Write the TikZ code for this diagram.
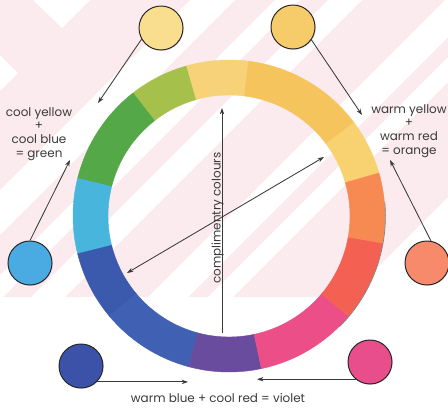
\documentclass[tikz,border=0pt]{standalone}
\usepackage{fontspec}
\setmainfont{Poppins}
\usetikzlibrary{arrows.meta,shadows}
\definecolor{bgpink}{RGB}{251,235,239}
\definecolor{inkgrey}{RGB}{58,58,58}
% wheel colours
\definecolor{whYO}{RGB}{248,210,112}
\definecolor{whYD}{RGB}{246,196,92}
\definecolor{whYL}{RGB}{247,210,120}
\definecolor{whYG}{RGB}{165,193,75}
\definecolor{whGR}{RGB}{85,168,72}
\definecolor{whCY}{RGB}{72,182,220}
\definecolor{whBA}{RGB}{59,89,173}
\definecolor{whBB}{RGB}{64,96,180}
\definecolor{whVI}{RGB}{106,76,158}
\definecolor{whPK}{RGB}{236,78,136}
\definecolor{whRD}{RGB}{244,97,82}
\definecolor{whOR}{RGB}{247,138,82}
% swatch colours
\definecolor{swcy}{RGB}{248,222,142}
\definecolor{swwy}{RGB}{246,204,106}
\definecolor{swcb}{RGB}{74,170,226}
\definecolor{swwr}{RGB}{246,138,106}
\definecolor{swwb}{RGB}{60,82,168}
\definecolor{swcr}{RGB}{232,78,140}

\begin{document}
\begin{tikzpicture}[x=0.025cm,y=-0.025cm,
  >={Stealth[length=1.6mm,width=1.1mm]},
  swatch/.style={circle,draw=black!85,line width=0.7pt,minimum size=1.1cm,inner sep=0pt,
                 drop shadow={opacity=0.2,shadow xshift=0.6pt,shadow yshift=-0.6pt}},
  mixlbl/.style={font=\fontsize{8.5}{9.7}\selectfont,text=inkgrey,align=center,inner sep=0pt},
  link/.style={->,inkgrey,line width=0.6pt},
]
  \useasboundingbox (0,0) rectangle (448,409);

  % --- striped backdrop ---
  \fill[bgpink] (0,0) rectangle (448,297);
  \begin{scope}
    \clip (0,0) rectangle (448,297);
    \foreach \lo/\hi in {190/235,275/300,328/362,445/485,505/530,645/750}
      \fill[white] (\lo,0) -- (\hi,0) -- (\hi-297,297) -- (\lo-297,297) -- cycle;
    \fill[white] (33,0) -- (90,0) -- (62,28) -- cycle;
    \fill[white] (0,55) -- (18,73) -- (0,91) -- cycle;
  \end{scope}

  % --- colour wheel ---
  \begin{scope}[shift={(229,216)},yscale=-1]
    \foreach \a/\b/\c in {16/37/whYO,37/83/whYD,83/106/whYL,106/128/whYG,
                          128/166/whGR,166/194/whCY,194/220/whBA,220/255/whBB,
                          255/282/whVI,282/320/whPK,320/350/whRD,350/376/whOR}
      \filldraw[\c,line width=0.3pt] (\a:156) arc[start angle=\a,end angle=\b,radius=156]
        -- (\b:121) arc[start angle=\b,end angle=\a,radius=121] -- cycle;
    \draw[black!50,line width=0.5pt] (-45:156.4) arc[start angle=-45,end angle=5,radius=156.4];
  \end{scope}

  % --- complementary pairs ---
  \coordinate (cpTop) at (222,108);
  \coordinate (cpBot) at (222,333);
  \coordinate (dgA) at (127,273);
  \coordinate (dgB) at (324,157);
  \draw[link] (cpBot) -- (cpTop);
  \draw[link,<->] (dgA) -- (dgB);
  \node[font=\fontsize{8.5}{10}\selectfont,text=inkgrey,rotate=90,anchor=base,inner sep=0pt]
    (cpLbl) at (220.5,218) {complimentry colours};

  % --- swatches ---
  \node[swatch,fill=swcy] (swCY) at (161,28) {};
  \node[swatch,fill=swwy] (swWY) at (293,27) {};
  \node[swatch,fill=swcb] (swCB) at (30,263) {};
  \node[swatch,fill=swwr] (swWR) at (427,263) {};
  \node[swatch,fill=swwb] (swWB) at (81,366) {};
  \node[swatch,fill=swcr] (swCR) at (370,362) {};

  % --- mixing labels ---
  \node[mixlbl] (lblGreen) at (39,134) {cool yellow\\+\\cool blue\\= green};
  \node[mixlbl] (lblOrange) at (409,131) {warm yellow\\+\\warm red\\= orange};
  \node[mixlbl] (lblViolet) at (218,398) {warm blue + cool red = violet};

  % --- arrows ---
  \coordinate (tipCY) at (98,103);
  \coordinate (tipCB) at (70,160);
  \coordinate (tipWY) at (362,115);
  \coordinate (tipWR) at (390,160);
  \coordinate (tipWB) at (188,383);
  \coordinate (tipCR) at (257,383);
  \draw[link] (swCY.-150) -- (tipCY);
  \draw[link] (swCB.north) -- (tipCB);
  \draw[link] (swWY.-35) -- (tipWY);
  \draw[link] (swWR.80) -- (tipWR);
  \draw[link] (swWB.-45) -- (swWB.-45 -| tipWB);
  \draw[link] (swCR.-130) -- (swCR.-130 -| tipCR);

\end{tikzpicture}
\end{document}
